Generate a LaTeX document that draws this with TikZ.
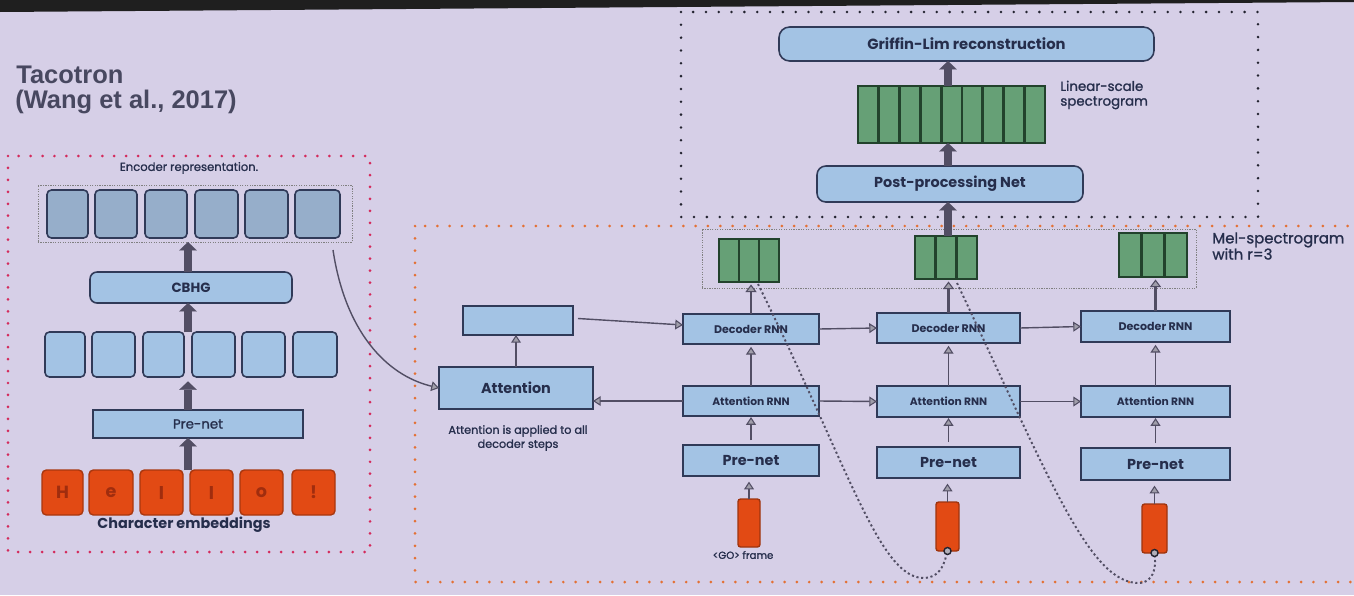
\documentclass[tikz,border=0pt]{standalone}
\usepackage{fontspec}
\setmainfont{Poppins}
\newfontfamily\titlefont{Liberation Sans}
\newfontfamily\medfont{Poppins}[FakeBold=1.2]
\usetikzlibrary{arrows.meta,calc}
\definecolor{bg}{RGB}{214,207,231}
\definecolor{ink}{RGB}{38,46,76}
\definecolor{boxline}{RGB}{48,58,88}
\definecolor{blueA}{RGB}{163,195,228}
\definecolor{blueB}{RGB}{150,174,202}
\definecolor{grn}{RGB}{102,160,118}
\definecolor{grnline}{RGB}{34,66,44}
\definecolor{org}{RGB}{226,74,20}
\definecolor{orgtxt}{RGB}{160,45,14}
\definecolor{crim}{RGB}{212,42,92}
\definecolor{orgdot}{RGB}{228,112,52}
\definecolor{blkdot}{RGB}{35,35,48}
\definecolor{arr}{RGB}{82,78,100}
\definecolor{ttl}{RGB}{72,72,96}
\newcommand{\fsz}[1]{\fontsize{#1}{#1}\selectfont}
\newcommand{\bx}[7]{%
  \pgfmathsetmacro{\bxw}{(#4-#2)*0.02}%
  \pgfmathsetmacro{\bxh}{(#5-#3)*0.02}%
  \node[#6, minimum width=\bxw cm, minimum height=\bxh cm] (#1) at ({(#2+#4)/2},{(#3+#5)/2}) {#7};}
\newcommand{\spec}[6]{%
  \bx{#1}{#2}{#3}{#4}{#5}{specbox}{}%
  \foreach \k in {1,...,#6}{\draw[grnline,line width=1.6pt] ({#2+(#4-#2)*\k/(#6+1)},#3) -- ({#2+(#4-#2)*\k/(#6+1)},#5);}}
\tikzset{
  blk/.style={draw=boxline, line width=0.9pt, fill=blueA, inner sep=0pt, outer sep=0pt, text=ink},
  rblk/.style={blk, rounded corners=2.5pt},
  erep/.style={rblk, fill=blueB},
  chr/.style={draw=org!75!black, line width=0.8pt, fill=org, rounded corners=2.5pt, inner sep=0pt, outer sep=0pt, text=orgtxt, font=\fsz{10}\bfseries},
  gobox/.style={draw=org!70!black, line width=0.8pt, fill=org, rounded corners=1.5pt, inner sep=0pt, outer sep=0pt},
  specbox/.style={draw=grnline, line width=1pt, fill=grn, inner sep=0pt, outer sep=0pt},
  grpbox/.style={draw=black!50, line width=0.5pt, dash pattern=on 0.7pt off 0.7pt, inner sep=0pt, outer sep=0pt},
  lbl/.style={text=ink, inner sep=0pt, align=center},
  reddot/.style={draw=crim, line width=1.7pt, line cap=round, dash pattern=on 0pt off 6.8pt},
  orgdotted/.style={draw=orgdot, line width=1.7pt, line cap=round, dash pattern=on 0pt off 7pt},
  blkdotted/.style={draw=blkdot, line width=1.6pt, line cap=round, dash pattern=on 0pt off 7.3pt},
  farrow/.style={draw=arr, line width=4.6pt, -{Triangle[length=4.8pt,width=10pt,line width=0.1pt]}},
  marrow/.style={draw=arr, line width=1.5pt, -{Triangle[length=4.4pt,width=6.4pt,line width=0.6pt,fill=arr!55!white]}},
  tarrow/.style={draw=arr, line width=0.8pt, -{Triangle[length=4.4pt,width=5.6pt,line width=0.6pt,fill=arr!55!white]}},
  fdot/.style={draw=arr, line width=1.1pt, dash pattern=on 1.2pt off 1.5pt},
  ring/.style={circle, draw=blkdot, line width=0.8pt, fill=arr!45!white, inner sep=0pt, minimum size=4pt}
}
\begin{document}
\begin{tikzpicture}[x=0.02cm,y=-0.02cm]
\useasboundingbox (0,0) rectangle (1354,595);
\clip (0,0) rectangle (1354,595);
\fill[bg] (0,0) rectangle (1354,595);
\fill[black!88] (0,0) -- (1354,0) -- (1354,2) -- (0,12) -- cycle;

% title
\node[anchor=base west, inner sep=0pt, text=ttl, font={\titlefont\bfseries\fontsize{14.5}{17}\selectfont}] (t1) at (16,83) {Tacotron};
\node[anchor=base west, inner sep=0pt, text=ttl, font={\titlefont\bfseries\fontsize{14.5}{17}\selectfont}] (t2) at (15,108) {(Wang et al., 2017)};

% group frames
\draw[reddot] (8,156) rectangle (370,552);
\draw[orgdotted] (415,226) rectangle (1380,582);
\draw[blkdotted] (681,12) rectangle (1258,217);

% ---------------- encoder ----------------
\node[lbl, font=\medfont\fsz{6.6}] (encl) at (189,168) {Encoder representation.};
\bx{encgrp}{38}{185}{352}{242}{grpbox}{}
\bx{e1}{47}{190}{88}{238}{erep}{}
\bx{e2}{95}{190}{137}{238}{erep}{}
\bx{e3}{145}{190}{187}{238}{erep}{}
\bx{e4}{195}{190}{238}{238}{erep}{}
\bx{e5}{245}{190}{288}{238}{erep}{}
\bx{e6}{295}{190}{340}{238}{erep}{}
\bx{cbhg}{90}{272}{292}{303}{rblk, rounded corners=4pt, font=\fsz{7.6}\bfseries}{CBHG}
\bx{m1}{45}{332}{85}{377}{rblk}{}
\bx{m2}{92}{332}{135}{377}{rblk}{}
\bx{m3}{143}{332}{184}{377}{rblk}{}
\bx{m4}{192}{332}{235}{377}{rblk}{}
\bx{m5}{242}{332}{285}{377}{rblk}{}
\bx{m6}{293}{332}{337}{377}{rblk}{}
\bx{epre}{93}{410}{303}{438}{blk, font=\medfont\fsz{7.6}}{Pre-net}
\bx{c1}{42}{470}{83}{515}{chr}{H}
\bx{c2}{89}{470}{133}{515}{chr}{e}
\bx{c3}{140}{470}{183}{515}{chr}{l}
\bx{c4}{190}{470}{233}{515}{chr}{l}
\bx{c5}{240}{470}{283}{515}{chr}{o}
\bx{c6}{292}{470}{335}{515}{chr}{!}
\node[lbl, font=\fsz{8.2}\bfseries] (charl) at (184,525) {Character embeddings};

\coordinate (eax) at (188,0);
\draw[farrow] (eax |- c1.north) -- (eax |- epre.south);
\draw[farrow, shorten >=2.5pt] (eax |- epre.north) -- (eax |- m1.south);
\draw[farrow] (eax |- m1.north) -- (eax |- cbhg.south);
\draw[farrow] (eax |- cbhg.north) -- (eax |- encgrp.south);

% ---------------- decoder ----------------
\bx{att}{439}{367}{593}{409}{blk, font=\fsz{8.2}\bfseries}{Attention}
\bx{ctx}{463}{306}{573}{335}{blk}{}
\node[lbl, font={\medfont\fontsize{6.4}{8}\selectfont}] (attl) at (518,438) {Attention is applied to all\\decoder steps};

\bx{dec1}{683}{314}{819}{344}{blk, font=\fsz{6.3}\bfseries}{Decoder RNN}
\bx{dec2}{877}{313}{1020}{343}{blk, font=\fsz{6.3}\bfseries}{Decoder RNN}
\bx{dec3}{1081}{311}{1230}{342}{blk, font=\fsz{6.3}\bfseries}{Decoder RNN}
\bx{atr1}{683}{386}{819}{416}{blk, font=\fsz{6.1}\bfseries}{Attention RNN}
\bx{atr2}{877}{386}{1020}{417}{blk, font=\fsz{6.1}\bfseries}{Attention RNN}
\bx{atr3}{1081}{386}{1230}{417}{blk, font=\fsz{6.1}\bfseries}{Attention RNN}
\bx{pre1}{683}{445}{819}{476}{blk, font=\fsz{8.2}\bfseries}{Pre-net}
\bx{pre2}{877}{447}{1020}{478}{blk, font=\fsz{8.2}\bfseries}{Pre-net}
\bx{pre3}{1081}{448}{1230}{480}{blk, font=\fsz{8.2}\bfseries}{Pre-net}
\bx{go1}{738}{499}{760}{547}{gobox}{}
\bx{go2}{936}{502}{959}{551}{gobox}{}
\bx{go3}{1142}{504}{1167}{553}{gobox}{}
\node[lbl, font=\medfont\fsz{5.8}] (gol) at (743,555) {\textless GO\textgreater{} frame};
\node[ring] (r2) at (go2.south) {};
\node[ring] (r3) at (go3.south) {};

% mel frames
\bx{melgrp}{702}{229}{1196}{288}{grpbox}{}
\spec{mel1}{719}{239}{779}{282}{2}
\spec{mel2}{915}{236}{977}{279}{2}
\spec{mel3}{1119}{233}{1187}{277}{2}
\node[lbl, anchor=west, align=left, font={\medfont\fontsize{8.5}{9.2}\selectfont}] (mell) at (1212,246) {Mel-spectrogram\\with r=3};

% post processing
\bx{post}{817}{166}{1083}{202}{rblk, rounded corners=5pt, font=\fsz{8.2}\bfseries}{Post-processing Net}
\spec{spec}{858}{86}{1045}{143}{8}
\node[lbl, anchor=west, align=left, font={\medfont\fontsize{7.6}{8.4}\selectfont}] (linl) at (1060,95) {Linear-scale\\spectrogram};
\bx{griffin}{779}{27}{1154}{61}{rblk, rounded corners=6pt, font=\fsz{8.4}\bfseries}{Griffin-Lim reconstruction}

\coordinate (tax) at (948,0);
\draw[farrow] (tax |- mel2.north) -- (tax |- post.south);
\draw[farrow] (tax |- post.north) -- (tax |- spec.south);
\draw[farrow] (tax |- spec.north) -- (tax |- griffin.south);

% decoder connectors
\foreach \i in {1,2,3}{
  \draw[tarrow, shorten >=3.2pt] (go\i.north) -- (go\i.north |- pre\i.south);
  \draw[tarrow, shorten <=2.8pt, shorten >=0.6pt] (pre\i.north) -- (pre\i.north |- atr\i.south);
  \draw[tarrow, shorten >=1.6pt] (atr\i.north) -- (atr\i.north |- dec\i.south);
  \draw[marrow, shorten >=1.4pt] (dec\i.north) -- (dec\i.north |- mel\i.south);
}
\draw[tarrow] (dec1.east) -- (dec2.west);
\draw[tarrow] (dec2.east) -- (dec3.west);
\draw[tarrow] (atr1.east) -- (atr2.west);
\draw[tarrow] (atr2.east) -- (atr3.west);
\draw[tarrow] (atr1.west) -- (atr1.west -| att.east);
\draw[tarrow] (att.north) -- (att.north |- ctx.south);
\draw[tarrow] ($(ctx.east)+(5,-2)$) -- ($(dec1.west)+(0,-4)$);

% encoder -> attention
\coordinate (cstart) at (333,250);
\draw[tarrow] (cstart) .. controls (345,330) and (385,375) .. (att.west);

% feedback dotted curves
\draw[fdot] ($(mel1.south)+(9,2)$) .. controls (850,470) and (880,580) .. (925,578) .. controls (938,577) and (943,568) .. (r2);
\draw[fdot] ($(mel2.south)+(11,4)$) .. controls (1050,480) and (1090,585) .. (1140,583) .. controls (1152,582) and (1156,570) .. (r3);
\end{tikzpicture}
\end{document}
